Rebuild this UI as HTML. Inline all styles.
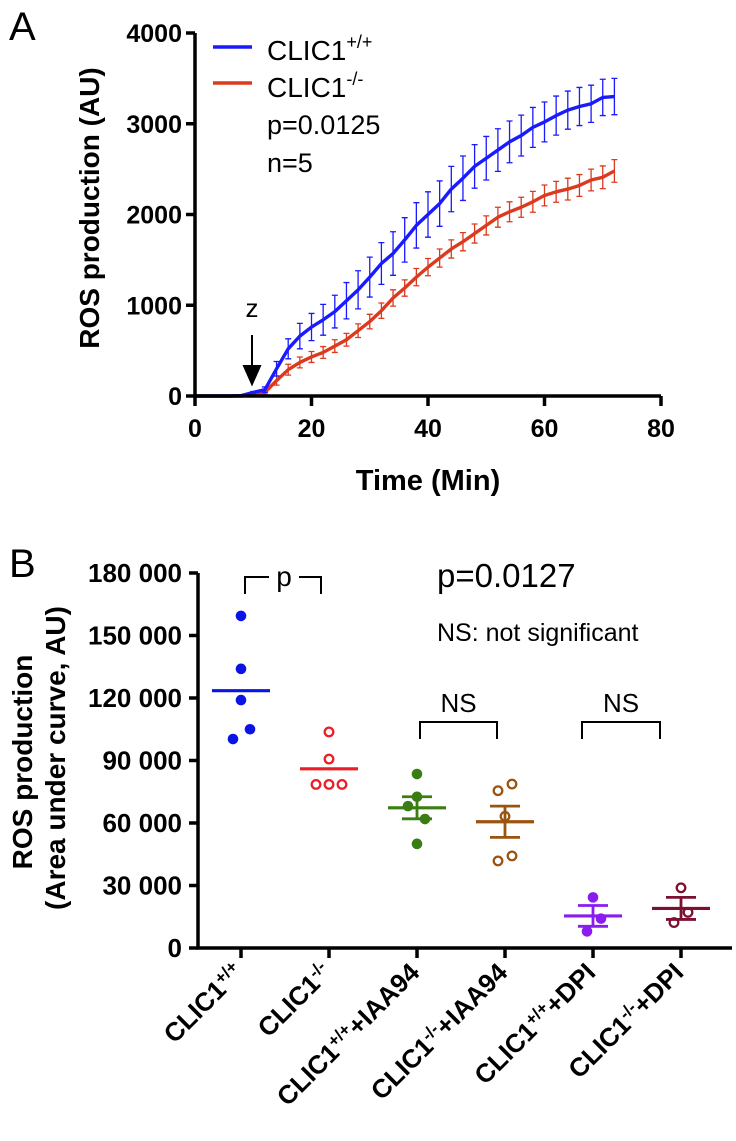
<!DOCTYPE html>
<html><head><meta charset="utf-8"><style>
body{margin:0;background:#fff;}
svg{display:block;font-family:"Liberation Sans",Arial,sans-serif;}
</style></head><body>
<svg id="fig" width="736" height="1141" viewBox="0 0 736 1141" xmlns="http://www.w3.org/2000/svg"></svg>
<script>
// ---------- Panel A data ----------
const timeMin = [0,2,4,6,8,10,12,14,16,18,20,22,24,26,28,30,32,34,36,38,40,42,44,46,48,50,52,54,56,58,60,62,64,66,68,70,72];
const wtMean = [0,0,0,0,5,40,70,300,520,660,760,840,930,1050,1170,1310,1460,1570,1720,1880,2000,2120,2280,2400,2530,2620,2710,2800,2870,2960,3020,3090,3150,3190,3220,3290,3300];
const wtErr = [0,0,0,0,0,10,30,80,110,140,150,170,180,200,210,220,230,240,245,250,250,250,250,245,240,240,235,230,225,220,220,215,210,210,205,200,200];
const koMean = [0,0,0,0,0,15,40,170,290,370,430,480,550,620,720,820,940,1080,1190,1310,1420,1520,1620,1700,1790,1880,1970,2030,2080,2140,2210,2250,2280,2320,2380,2410,2480];
const koErr = [0,0,0,0,0,5,20,50,60,60,60,65,70,70,75,80,85,90,90,95,95,100,100,100,105,105,110,110,110,115,115,115,120,120,120,125,125];
const aYTicks = [0,1000,2000,3000,4000];
const aXTicks = [0,20,40,60,80];

// ---------- Panel B data ----------
const groups = ["CLIC1+/+","CLIC1-/-","CLIC1+/++IAA94","CLIC1-/-+IAA94","CLIC1+/++DPI","CLIC1-/-+DPI"];
const pts0 = [159400,134000,119000,105000,100300];
const pts1 = [103700,90700,78500,78500,78500];
const pts2 = [83500,72600,68100,61900,50000];
const pts3 = [78700,75500,63200,44200,41800];
const pts4 = [24300,14100,8000];
const pts5 = [28900,17100,12200];
const groupMeans = [123500,86000,67300,60600,15400,19000];
const groupSem = [0,0,5300,7500,5000,5300];
const bYTicks = [0,30000,60000,90000,120000,150000,180000];
const bYTickLabels = ["0","30 000","60 000","90 000","120 000","150 000","180 000"];

const NS="http://www.w3.org/2000/svg";
const svg=document.getElementById('fig');
function mk(tag,attrs,parent){const e=document.createElementNS(NS,tag);for(const k in attrs)e.setAttribute(k,attrs[k]);(parent||svg).appendChild(e);return e;}
function txt(s,attrs,parent){const e=mk('text',attrs,parent);e.textContent=s;return e;}

// Panel A scales
const ax=t=>195+t*(661-195)/80;
const ay=v=>396-v*(396-33)/4000;
const gA=mk('g',{});


let e=txt('A',{x:9,y:40,'font-size':40},gA);


function series(mean,err,color,name){
  const g=mk('g',{},gA);
  
  
  for(let i=0;i<timeMin.length;i++){
    if(err[i]<=0)continue;
    const x=ax(timeMin[i]),y1=ay(mean[i]-err[i]),y2=ay(mean[i]+err[i]);
    const b=mk('path',{d:`M${x},${y1}V${y2}M${x-3},${y1}H${x+3}M${x-3},${y2}H${x+3}`,stroke:color,'stroke-width':1.3,fill:'none'},g);
    
    
  }
  const d=timeMin.map((t,i)=>(i?'L':'M')+ax(t)+','+ay(mean[i])).join('');
  const l=mk('path',{d,stroke:color,'stroke-width':3.4,fill:'none','stroke-linejoin':'round'},g);
  
  
}
series(koMean,koErr,'#dc3a1e','series-clic1-ko');
series(wtMean,wtErr,'#1a1aff','series-clic1-wt');

// axes A
e=mk('path',{d:`M195,${ay(4000)}V396H661`,stroke:'#000','stroke-width':3.5,fill:'none'},gA);

aYTicks.forEach(v=>{
  const t=mk('line',{x1:186,x2:195,y1:ay(v),y2:ay(v),stroke:'#000','stroke-width':3.5},gA);
  
  const l=txt(String(v),{x:182,y:ay(v)+9,'text-anchor':'end','font-size':25,'font-weight':'bold'},gA);
  
});
aXTicks.forEach(v=>{
  const t=mk('line',{x1:ax(v),x2:ax(v),y1:396,y2:406,stroke:'#000','stroke-width':3.5},gA);
  
  const l=txt(String(v),{x:ax(v),y:437,'text-anchor':'middle','font-size':25,'font-weight':'bold'},gA);
  
});
e=txt('Time (Min)',{x:428,y:490,'text-anchor':'middle','font-size':29,'font-weight':'bold'},gA);

e=txt('ROS production (AU)',{x:0,y:0,'text-anchor':'middle','font-size':28,'font-weight':'bold',transform:'translate(99,208) rotate(-90)'},gA);

// legend
e=mk('line',{x1:213,x2:252,y1:47,y2:47,stroke:'#1a1aff','stroke-width':3.5},gA);

e=mk('line',{x1:213,x2:252,y1:83,y2:83,stroke:'#dc3a1e','stroke-width':3.5},gA);

e=txt('',{x:267,y:60,'font-size':28},gA);e.innerHTML='CLIC1<tspan dy="-12" font-size="18">+/+</tspan>';

e=txt('',{x:267,y:97,'font-size':28},gA);e.innerHTML='CLIC1<tspan dy="-12" font-size="18">-/-</tspan>';

e=txt('p=0.0125',{x:267,y:134,'font-size':27},gA);

e=txt('n=5',{x:267,y:172,'font-size':27},gA);

e=txt('z',{x:252,y:317,'text-anchor':'middle','font-size':26},gA);

e=mk('path',{d:'M252,335V368M244,366L252,384L260,366Z',stroke:'#000','stroke-width':2,fill:'#000'},gA);


// ---------- Panel B ----------
const gB=mk('g',{});


e=txt('B',{x:9,y:577,'font-size':40},gB);

const bx=i=>241+i*88;
const by=v=>948-v*(948-573)/180000;
e=mk('path',{d:`M198,573V948H732`,stroke:'#000','stroke-width':3.5,fill:'none'},gB);

bYTicks.forEach((v,i)=>{
  const t=mk('line',{x1:189,x2:198,y1:by(v),y2:by(v),stroke:'#000','stroke-width':3.5},gB);
  
  const l=txt(bYTickLabels[i],{x:182,y:by(v)+9,'text-anchor':'end','font-size':26,'font-weight':'bold'},gB);
  
});
const sups=[["+/+",""],["-/-",""],["+/+","+IAA94"],["-/-","+IAA94"],["+/+","+DPI"],["-/-","+DPI"]];
groups.forEach((g,i)=>{
  const t=mk('line',{x1:bx(i),x2:bx(i),y1:948,y2:958,stroke:'#000','stroke-width':3.5},gB);
  
  const l=txt('',{x:0,y:0,'text-anchor':'end','font-size':26,'font-weight':'bold',transform:`translate(${bx(i)+4},${974}) rotate(-45)`},gB);
  l.innerHTML=`CLIC1<tspan dy="-9" font-size="17">${sups[i][0]}</tspan><tspan dy="9">${sups[i][1]}</tspan>`;
  
});
e=txt('ROS production',{x:0,y:0,'text-anchor':'middle','font-size':28,'font-weight':'bold',transform:'translate(32,762) rotate(-90)'},gB);

e=txt('(Area under curve, AU)',{x:0,y:0,'text-anchor':'middle','font-size':28,'font-weight':'bold',transform:'translate(65,758) rotate(-90)'},gB);


const allPts=[pts0,pts1,pts2,pts3,pts4,pts5];
const colors=['#0a14e6','#ee1c24','#3a7d12','#9a5410','#8a1cf0','#7d1030'];
const filled=[true,false,true,false,true,false];
const offs=[[0,0,0,9,-8],[0,0,-13,0,13],[0,0,-9,8,0],[7,-7,0,7,-7],[0,8,-6],[0,7,-7]];
allPts.forEach((arr,i)=>{
  const g=mk('g',{},gB);
  
  
  arr.forEach((v,j)=>{
    const c=mk('circle',filled[i]?{cx:bx(i)+offs[i][j],cy:by(v),r:5.3,fill:colors[i]}:{cx:bx(i)+offs[i][j],cy:by(v),r:4.3,fill:'none',stroke:colors[i],'stroke-width':2.3},g);
    
    
  });
  const m=groupMeans[i],x=bx(i);
  const ml=mk('line',{x1:x-29,x2:x+29,y1:by(m),y2:by(m),stroke:colors[i],'stroke-width':3.2},g);
  
  if(groupSem[i]>0){
    const s=groupSem[i];
    const eb=mk('path',{d:`M${x},${by(m-s)}V${by(m+s)}M${x-15},${by(m-s)}H${x+15}M${x-15},${by(m+s)}H${x+15}`,stroke:colors[i],'stroke-width':2.8,fill:'none'},g);
    
  }
});
// annotations
e=mk('path',{d:'M245,594V577H269M299,577H321V594',stroke:'#000','stroke-width':2,fill:'none'},gB);

e=txt('p',{x:284,y:586,'text-anchor':'middle','font-size':28},gB);

e=txt('p=0.0127',{x:437,y:587,'font-size':33},gB);

e=txt('NS: not significant',{x:437,y:641,'font-size':25},gB);

[[420,497],[582,660]].forEach(([a,b])=>{
  const br=mk('path',{d:`M${a},739V722H${b}V739`,stroke:'#000','stroke-width':2,fill:'none'},gB);
  
  const l=txt('NS',{x:(a+b)/2,y:712,'text-anchor':'middle','font-size':26},gB);
  
});
</script>
</body></html>
